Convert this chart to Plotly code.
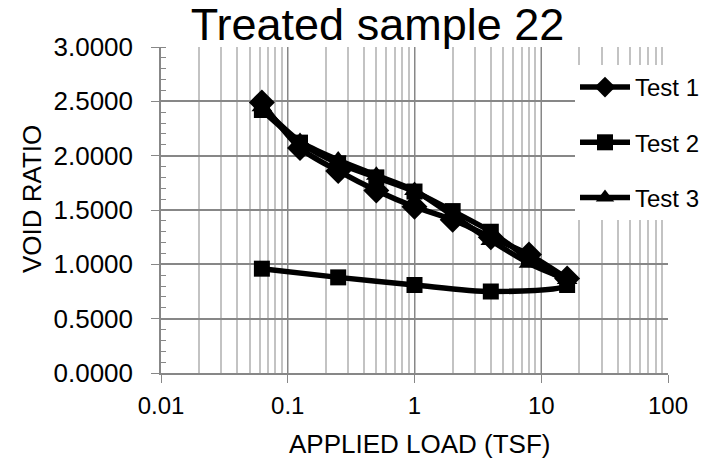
import plotly.graph_objects as go

# ---- data ----
loads_loading = [0.0625, 0.125, 0.25, 0.5, 1, 2, 4, 8, 16]
loads_test2 = [0.0625, 0.125, 0.25, 0.5, 1, 2, 4, 8, 16, 4, 1, 0.25, 0.0625]
test1_void = [2.49, 2.07, 1.86, 1.68, 1.53, 1.41, 1.25, 1.09, 0.87]
test2_void = [2.42, 2.12, 1.93, 1.80, 1.67, 1.49, 1.30, 1.05, 0.81, 0.75, 0.81, 0.88, 0.96]
test3_void = [2.45, 2.13, 1.96, 1.82, 1.68, 1.45, 1.22, 1.01, 0.86]

x_tickvals = [0.01, 0.1, 1, 10, 100]
x_ticktext = ["0.01", "0.1", "1", "10", "100"]
y_tickvals = [0, 0.5, 1.0, 1.5, 2.0, 2.5, 3.0]

FONT = "Liberation Sans, Arial, sans-serif"
MAJOR = "#878787"
MINOR = "#c3c3c3"

# page body adds an 8px offset; layout is expressed in figure pixels
L, R, T, B = 153, 51, 39, 96
PW, PH = 711 - L - R, 461 - T - B

fig = go.Figure()
series = [
    ("Test 1", loads_loading, test1_void, "diamond", 20),
    ("Test 2", loads_test2, test2_void, "square", 16),
    ("Test 3", loads_loading, test3_void, "triangle-up", 18),
]
for name, xs, ys, sym, size in series:
    fig.add_trace(go.Scatter(
        x=xs, y=ys, name=name, mode="lines+markers",
        line=dict(color="black", width=5.5, shape="spline", smoothing=0.8),
        marker=dict(symbol=sym, size=size, color="black"),
        legendgroup=name,
    ))

fig.update_layout(
    width=711, height=461,
    margin=dict(l=L, r=R, t=T, b=B, autoexpand=False),
    paper_bgcolor="white", plot_bgcolor="white",
    font=dict(family=FONT, color="black", size=24),
    title=dict(text="Treated sample 22", x=369.5/711, xanchor="center",
               y=1, yanchor="top", yref="container", pad=dict(t=0),
               font=dict(size=45, family=FONT, color="black")),
    showlegend=True,
    legend=dict(x=(567-L)/PW, xanchor="left", y=(T+PH-57)/PH, yanchor="top",
                bgcolor="white", font=dict(size=24, family=FONT),
                tracegroupgap=21, itemwidth=50, borderwidth=0),
    xaxis=dict(type="log", range=[-2, 2], tickvals=x_tickvals, ticktext=x_ticktext,
               showgrid=True, gridcolor=MAJOR, gridwidth=1,
               showline=True, linecolor=MAJOR, linewidth=1.5,
               ticks="outside", ticklen=8, tickcolor=MAJOR,
               minor=dict(dtick="D1", showgrid=True, gridcolor=MINOR, gridwidth=1.5, ticks=""),
               zeroline=False, tickfont=dict(size=24), ticklabelstandoff=2),
    yaxis=dict(range=[0, 3], tickvals=y_tickvals, tickformat=".4f",
               showgrid=True, gridcolor=MAJOR, gridwidth=1.5,
               showline=True, linecolor=MAJOR, linewidth=1.5,
               ticks="outside", ticklen=8, tickcolor=MAJOR,
               minor=dict(dtick=0.1, ticks="inside", ticklen=5, tickcolor=MAJOR, showgrid=False),
               zeroline=False, tickfont=dict(size=26), ticklabelstandoff=13),
    annotations=[
        dict(text="APPLIED LOAD (TSF)", xref="paper", yref="paper",
             x=(412-L)/PW, y=(T+PH-436)/PH, xanchor="center", yanchor="middle",
             showarrow=False, font=dict(size=26, family=FONT, color="black")),
        dict(text="VOID RATIO", xref="paper", yref="paper", textangle=-90,
             x=(24-L)/PW, y=(T+PH-191)/PH, xanchor="center", yanchor="middle",
             showarrow=False, font=dict(size=26, family=FONT, color="black")),
    ],
)

fig.write_html("out.html")
